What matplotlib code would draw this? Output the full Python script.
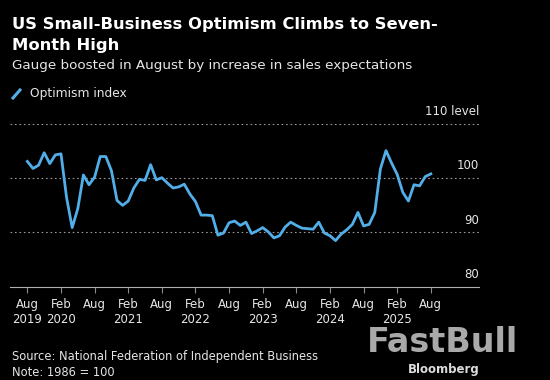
import numpy as np
import matplotlib
matplotlib.use("Agg")
import matplotlib.pyplot as plt

# NFIB small business optimism index, monthly, Aug 2019 .. Aug 2025
optimism = [
    103.1, 101.8, 102.4, 104.7, 102.7,                      # 2019 Aug-Dec
    104.3, 104.5, 96.4, 90.9, 94.4, 100.6, 98.8, 100.2, 104.0, 104.0, 101.4, 95.9,   # 2020
    95.0, 95.8, 98.2, 99.8, 99.6, 102.5, 99.7, 100.1, 99.1, 98.2, 98.4, 98.9,        # 2021
    97.1, 95.7, 93.2, 93.2, 93.1, 89.5, 89.9, 91.8, 92.1, 91.3, 91.9, 89.8,          # 2022
    90.3, 90.9, 90.1, 89.0, 89.4, 91.0, 91.9, 91.3, 90.8, 90.7, 90.6, 91.9,          # 2023
    89.9, 89.4, 88.5, 89.7, 90.5, 91.5, 93.7, 91.2, 91.5, 93.7, 101.7, 105.1,        # 2024
    102.8, 100.7, 97.4, 95.8, 98.8, 98.6, 100.3, 100.8,                              # 2025
]
tick_labels = ["Aug\n2019", "Feb\n2020", "Aug", "Feb\n2021", "Aug", "Feb\n2022", "Aug",
               "Feb\n2023", "Aug", "Feb\n2024", "Aug", "Feb\n2025", "Aug"]
y_ticks = [80, 90, 100, 110]
y_labels = ["80", "90", "100", "110 level"]

bg = "black"
fg = "#e6e6e6"
grey = "#8a8a8a"
blue = "#52aee8"

months = np.arange(len(optimism))

fig = plt.figure(figsize=(5.5, 3.8), dpi=100, facecolor=bg)
ax = fig.add_axes([10 / 550, 1 - 286.7 / 380, 469 / 550, (286.7 - 124) / 380])
ax.set_facecolor(bg)

ax.plot(months, optimism, color=blue, lw=2, solid_joinstyle="round", clip_on=False)

ax.set_xlim(-3.1, 80.6)
ax.set_ylim(80, 110)

for v in y_ticks[1:]:
    ax.axhline(v, color="#9a9a9a", lw=0.8, ls=(0, (1.5, 2.5)), zorder=0)
for v, lab in zip(y_ticks, y_labels):
    ax.text(1.0, v + 1.1, lab, transform=ax.get_yaxis_transform(), ha="right", va="bottom",
            color=fg, fontsize=8.5)

ax.set_xticks(months[::6])
ax.set_xticklabels(tick_labels, color=fg, fontsize=8.5, linespacing=1.25)
ax.tick_params(axis="x", length=4, color=grey, width=0.8, pad=4)
ax.set_yticks([])
for s in ["top", "right", "left"]:
    ax.spines[s].set_visible(False)
ax.spines["bottom"].set_color("#b0b0b0")
ax.spines["bottom"].set_linewidth(0.8)

fig.text(12 / 550, 1 - 24.5 / 380, "US Small-Business Optimism Climbs to Seven-",
         color="white", fontsize=11.8, fontweight="bold", va="center")
fig.text(12 / 550, 1 - 45.5 / 380, "Month High",
         color="white", fontsize=11.8, fontweight="bold", va="center")
fig.text(12 / 550, 1 - 65 / 380, "Gauge boosted in August by increase in sales expectations",
         color=fg, fontsize=9.7, va="center")

# legend swatch
fig.add_artist(plt.Line2D([13 / 550, 20 / 550], [1 - 98 / 380, 1 - 90 / 380],
                          color=blue, lw=2.2))
fig.text(30 / 550, 1 - 94 / 380, "Optimism index", color=fg, fontsize=8.8, va="center")

fig.text(12 / 550, 1 - 356.5 / 380, "Source: National Federation of Independent Business",
         color=fg, fontsize=8.3, va="center")
fig.text(12 / 550, 1 - 372 / 380, "Note: 1986 = 100", color=fg, fontsize=8.3, va="center")

# watermark
fig.text(442 / 550, 1 - 342 / 380, "FastBull", color="#bdbdbd", fontsize=24,
         fontweight="bold", ha="center", va="center", alpha=0.9)
fig.text(444 / 550, 1 - 369.5 / 380, "Bloomberg", color="#dcdcdc", fontsize=8.5,
         fontweight="bold", ha="center", va="center")

fig.savefig("out.png", dpi=100, facecolor=bg)
